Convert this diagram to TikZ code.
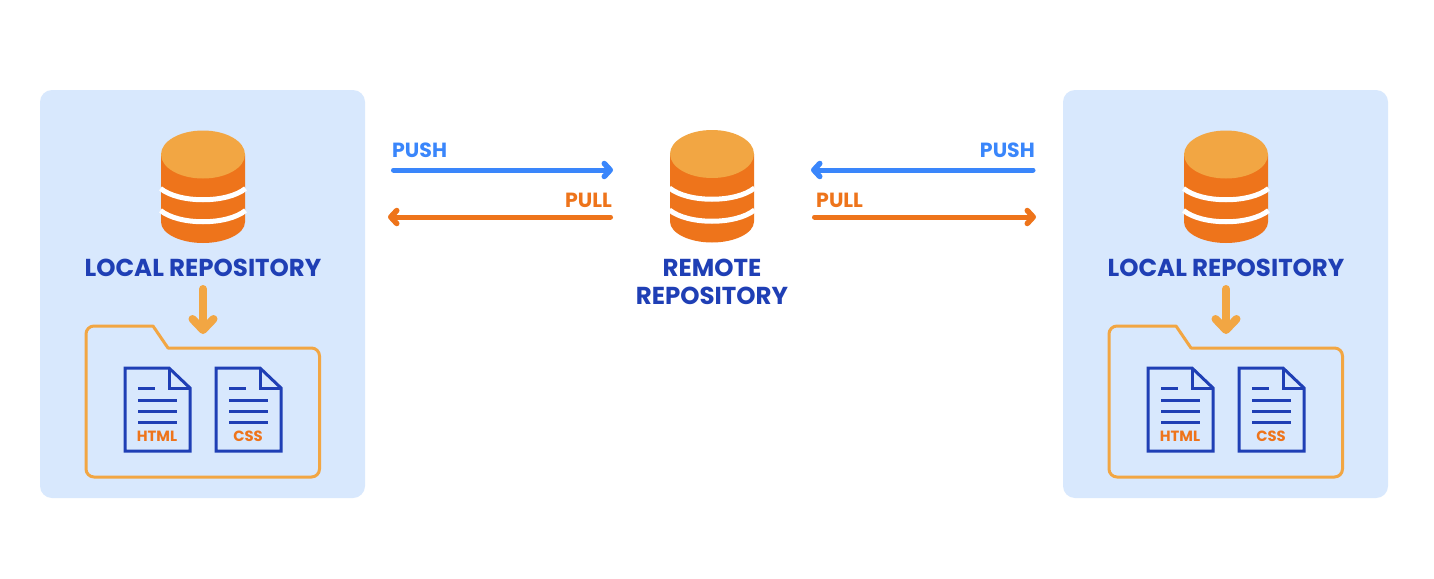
\documentclass[tikz,border=0pt]{standalone}
\usepackage{fontspec}
\setmainfont{Poppins}
\usetikzlibrary{arrows.meta}
\definecolor{panelblue}{HTML}{D8E8FD}
\definecolor{dborange}{HTML}{EE741B}
\definecolor{dbtop}{HTML}{F2A643}
\definecolor{navy}{HTML}{1F3FB5}
\definecolor{pushblue}{HTML}{3A86FB}
\tikzset{
  panel/.style={fill=panelblue,rounded corners=12},
  title/.style={anchor=base,text=navy,font=\fontsize{24.5}{24.5}\selectfont\bfseries,inner sep=0},
  pushlabel/.style={anchor=base,text=pushblue,font=\fontsize{20.5}{20.5}\selectfont\bfseries,inner sep=0},
  pulllabel/.style={anchor=base,text=dborange,font=\fontsize{20.5}{20.5}\selectfont\bfseries,inner sep=0},
  filelabel/.style={anchor=base,text=dborange,font=\fontsize{14.8}{14.8}\selectfont\bfseries,inner sep=0},
  pushline/.style={draw=pushblue,line width=5,line cap=round,-{Straight Barb[length=6,width=13,line width=5.5,round]}},
  pullline/.style={draw=dborange,line width=5,line cap=round,-{Straight Barb[length=6,width=13,line width=5.5,round]}},
  downline/.style={draw=dbtop,line width=8,line cap=round,-{Straight Barb[length=11,width=21,line width=8,round]}},
  folderline/.style={draw=dbtop,line width=3,line join=round},
  docline/.style={draw=navy,line width=3,line join=miter},
  textline/.style={draw=navy,line width=3},
  pics/database/.style={code={
    \fill[dborange] (-42,154.5) -- (-42,222) .. controls (-42,234) and (-22,243) .. (0,243)
      .. controls (22,243) and (42,234) .. (42,222) -- (42,154.5) -- cycle;
    \fill[dbtop] (0,154.5) ellipse [x radius=42,y radius=24];
    \draw[white,line width=5] (-42.5,188.5) .. controls (-24,203.5) and (24,203.5) .. (42.5,188.5);
    \draw[white,line width=5] (-42.5,210.5) .. controls (-24,225.5) and (24,225.5) .. (42.5,210.5);
  }},
  pics/document/.style={code={
    \draw[docline] (0,0) -- (44,0) -- (65,20) -- (65,83) -- (0,83) -- cycle;
    \draw[docline] (44,0) -- (44,20) -- (65,20);
    \draw[textline] (13,20) -- (30,20);
    \draw[textline] (13,32) -- (52,32);
    \draw[textline] (13,43) -- (52,43);
    \draw[textline] (13,54) -- (52,54);
  }},
  pics/folder/.style={code={
    \draw[folderline] (120,326) -- (153,326) -- (168,348) [rounded corners=8] -- (319.5,348)
      -- (319.5,477) -- (86,477) -- (86,326) -- cycle;
  }},
  pics/workspace/.style={code={
    \fill[panel] (40,90) rectangle (365,498);
    \pic at (203,0) {database};
    \node[title] (#1title) at (203,276) {LOCAL REPOSITORY};
    \coordinate (#1from) at (203,289);
    \coordinate (#1to) at (203,334);
    \draw[downline] (#1from) -- (#1to);
    \pic {folder};
    \pic at (125,368) {document};
    \pic at (216,368) {document};
    \node[filelabel] (#1html) at (157,441) {HTML};
    \node[filelabel] (#1css) at (248,441) {CSS};
  }},
}
\begin{document}
\begin{tikzpicture}[x=1pt,y=-1pt]
\useasboundingbox (0,0) rectangle (1434,578);
\fill[white] (0,0) rectangle (1434,578);
\pic at (0,0) {workspace=L};
\pic at (1023,0) {workspace=R};
\pic at (712,-0.5) {database};
\node[title] (remoteA) at (712,276) {REMOTE};
\node[title] (remoteB) at (712,304.5) {REPOSITORY};
\coordinate (a1) at (393.5,170); \coordinate (a2) at (613,170);
\coordinate (b1) at (610.5,217); \coordinate (b2) at (388,217);
\coordinate (c1) at (1033,170); \coordinate (c2) at (811,170);
\coordinate (d1) at (814.5,217); \coordinate (d2) at (1036,217);
\draw[pushline] (a1) -- (a2);
\draw[pullline] (b1) -- (b2);
\draw[pushline] (c1) -- (c2);
\draw[pullline] (d1) -- (d2);
\node[pushlabel,anchor=base west] (pushL) at (392,157) {PUSH};
\node[pulllabel,anchor=base east] (pullL) at (612,207) {PULL};
\node[pushlabel,anchor=base east] (pushR) at (1035,157) {PUSH};
\node[pulllabel,anchor=base west] (pullR) at (816,207) {PULL};
\end{tikzpicture}
\end{document}
